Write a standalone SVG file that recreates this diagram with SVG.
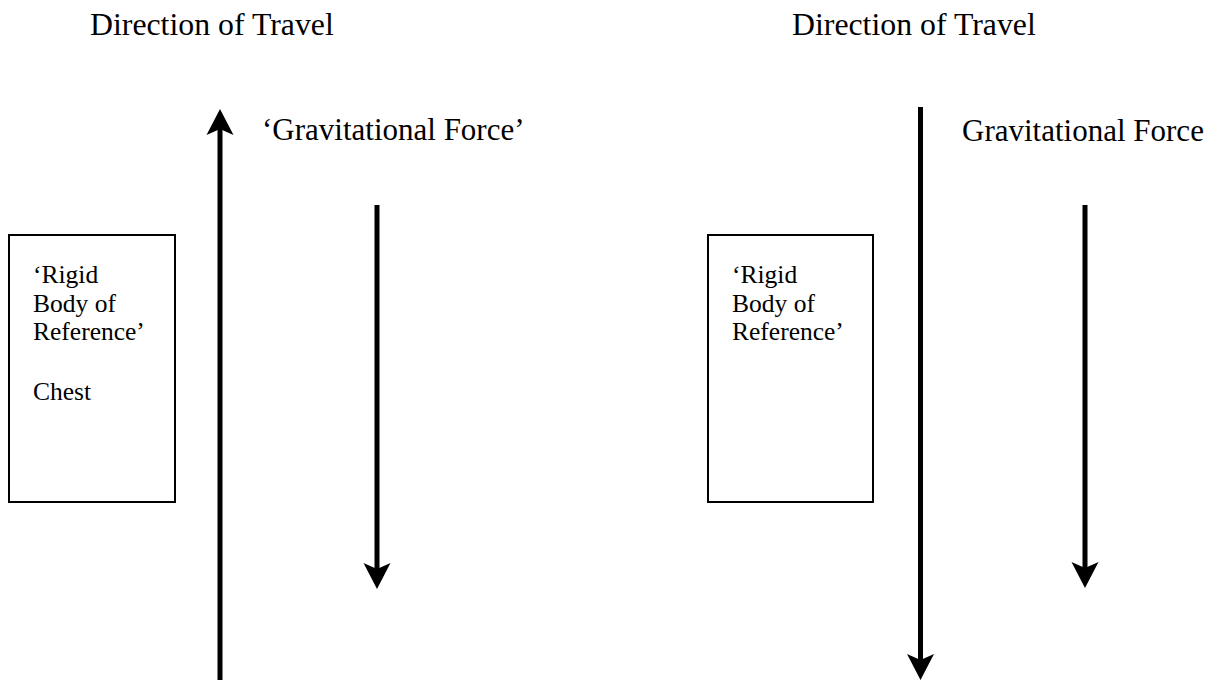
<svg xmlns="http://www.w3.org/2000/svg" width="1220" height="680" viewBox="0 0 1220 680">
<style>
text{font-family:"Liberation Serif","Times New Roman",serif;fill:#000}
.title{font-size:31.8px}
.label{font-size:31px}
.body{font-size:25.5px}
.box{fill:#fff;stroke:#000;stroke-width:2}
.arrow{stroke:#000;stroke-width:5;fill:none}
</style>
<defs>
<marker id="head" markerUnits="userSpaceOnUse" markerWidth="26" markerHeight="28" viewBox="0 0 26 28" refX="14" refY="14" orient="auto">
<path d="M0,0.5 L26,14 L0,27.5 L6,14 Z" fill="#000"/>
</marker>
</defs>
<rect width="1220" height="680" fill="#fff"/>
<g id="left-title"><text class="title" x="90" y="35">Direction of Travel</text></g>
<g id="right-title"><text class="title" x="792" y="35">Direction of Travel</text></g>
<g id="left-force-label"><text class="label" x="262" y="140">‘Gravitational Force’</text></g>
<g id="right-force-label"><text class="label" x="962" y="141">Gravitational Force</text></g>
<g id="left-box">
<rect class="box" x="9" y="235" width="166" height="267"/>
<text class="body" x="33" y="283">‘Rigid</text>
<text class="body" x="33" y="312">Body of</text>
<text class="body" x="33" y="340">Reference’</text>
<text class="body" x="33" y="400">Chest</text>
</g>
<g id="right-box">
<rect class="box" x="708" y="235" width="165" height="267"/>
<text class="body" x="732" y="283">‘Rigid</text>
<text class="body" x="732" y="312">Body of</text>
<text class="body" x="732" y="340">Reference’</text>
</g>
<g id="connectors">
<line class="arrow" x1="220" y1="680" x2="220" y2="121" marker-end="url(#head)"/>
<line class="arrow" x1="377" y1="205" x2="377" y2="577" marker-end="url(#head)"/>
<line class="arrow" x1="920.5" y1="107" x2="920.5" y2="668" marker-end="url(#head)"/>
<line class="arrow" x1="1085" y1="205" x2="1085" y2="576" marker-end="url(#head)"/>
</g>
</svg>
